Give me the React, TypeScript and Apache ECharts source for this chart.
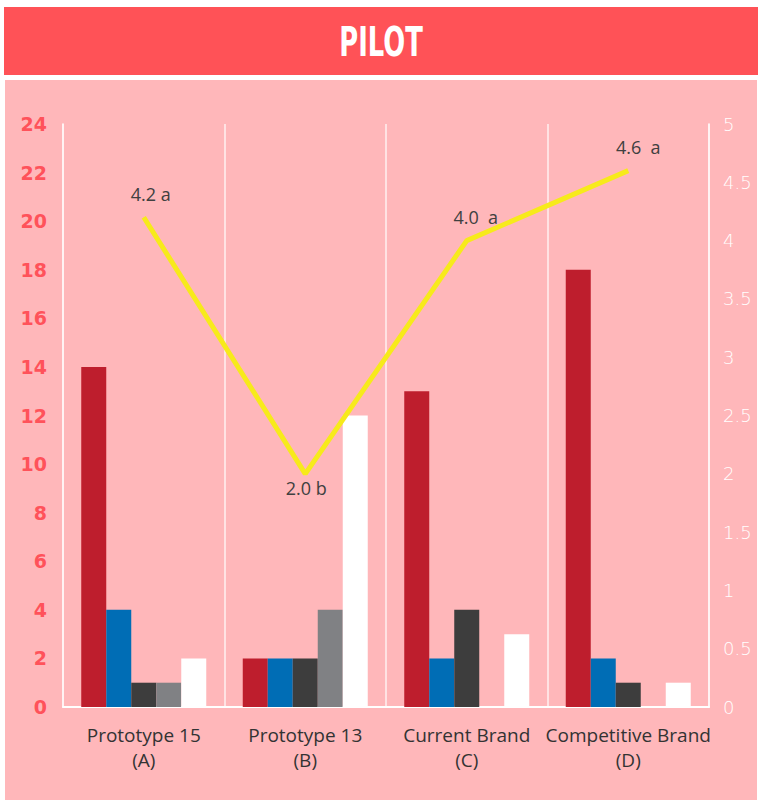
import React, { useEffect, useRef } from "react";
import * as echarts from "echarts";

const categories = ["Prototype 15\n(A)", "Prototype 13\n(B)", "Current Brand\n(C)", "Competitive Brand\n(D)"];
const seriesRed = [14, 2, 13, 18];
const seriesBlue = [4, 2, 2, 2];
const seriesDark = [1, 2, 4, 1];
const seriesGray = [1, 4, 0, 0];
const seriesWhite = [2, 12, 3, 1];
const lineValues = [4.2, 2.0, 4.0, 4.6];
const lineLabels = ["4.2 a", "2.0 b", "4.0  a", "4.6  a"];
const title = "PILOT";

export default function App() {
  const ref = useRef<HTMLDivElement>(null);
  useEffect(() => {
    if (!ref.current) return;
    const chart = echarts.init(ref.current, null, { renderer: "svg" });
    const barSeries = [
      { name: "r", data: seriesRed, color: "#BE1E2D" },
      { name: "b", data: seriesBlue, color: "#006DB5" },
      { name: "d", data: seriesDark, color: "#3D3D3D" },
      { name: "g", data: seriesGray, color: "#808184" },
      { name: "w", data: seriesWhite, color: "#FFFFFF" },
    ].map((s) => ({
      type: "bar",
      name: s.name,
      data: s.data,
      yAxisIndex: 0,
      barWidth: 25,
      barGap: "0%",
      itemStyle: { color: s.color },
      z: 2,
    }));
    const labelPos = [
      { position: "top", offset: [7, -9] },
      { position: "bottom", offset: [1, 0] },
      { position: "top", offset: [9, -9] },
      { position: "top", offset: [10, -9] },
    ];
    chart.setOption({
      animation: false,
      backgroundColor: "#FFFFFF",
      graphic: [
        { type: "rect", shape: { x: 4, y: 7, width: 754, height: 68 }, style: { fill: "#FF5257" }, z: -10 },
        { type: "rect", shape: { x: 5, y: 80, width: 752, height: 720 }, style: { fill: "#FFB7BA" }, z: -10 },
        {
          type: "text",
          x: 381,
          y: 42,
          scaleX: 0.7,
          style: {
            text: title,
            fill: "#FFFFFF",
            font: "bold 41px 'Liberation Sans Narrow', 'DejaVu Sans Condensed'",
            align: "center",
            verticalAlign: "middle",
          },
          z: 10,
        },
      ],
      grid: { left: 63, right: 53, top: 124, bottom: 97, containLabel: false },
      xAxis: {
        type: "category",
        data: categories,
        axisLine: { show: true, lineStyle: { color: "#FFFFFF", width: 2 } },
        axisTick: { show: false },
        splitLine: { show: true, lineStyle: { color: "rgba(255,255,255,0.6)", width: 2 } },
        axisLabel: {
          color: "#333333",
          fontSize: 19,
          lineHeight: 25,
          margin: 15,
          fontFamily: "'Open Sans'",
          interval: 0,
        },
      },
      yAxis: [
        {
          type: "value",
          min: 0,
          max: 24,
          interval: 2,
          splitLine: { show: false },
          axisLine: { show: true, lineStyle: { color: "rgba(255,255,255,0.6)", width: 2 } },
          axisLabel: {
            color: "#FF525A",
            fontSize: 19,
            fontWeight: "bold",
            fontFamily: "'DejaVu Sans'",
            margin: 16,
          },
        },
        {
          type: "value",
          min: 0,
          max: 5,
          interval: 0.5,
          splitLine: { show: false },
          axisLine: { show: true, lineStyle: { color: "rgba(255,255,255,0.6)", width: 2 } },
          axisLabel: {
            color: "#FFFFFF",
            fontSize: 18,
            fontWeight: 300,
            fontFamily: "'DejaVu Sans'",
            margin: 14,
          },
        },
      ],
      series: [
        ...barSeries,
        {
          type: "line",
          yAxisIndex: 1,
          data: lineValues.map((v, i) => ({
            value: v,
            label: {
              show: true,
              position: labelPos[i].position,
              offset: labelPos[i].offset,
              formatter: lineLabels[i],
              color: "#404040",
              fontSize: 18,
              fontFamily: "'Open Sans'",
            },
          })),
          symbol: "circle",
          symbolSize: 1,
          showSymbol: true,
          itemStyle: { color: "rgba(0,0,0,0)" },
          lineStyle: { color: "#F7EA1B", width: 5 },
          z: 5,
        },
      ],
    });
    return () => chart.dispose();
  }, []);
  return (
    <div
      ref={ref}
      style={{ position: "absolute", left: 0, top: 0, width: 762, height: 804 }}
    />
  );
}
